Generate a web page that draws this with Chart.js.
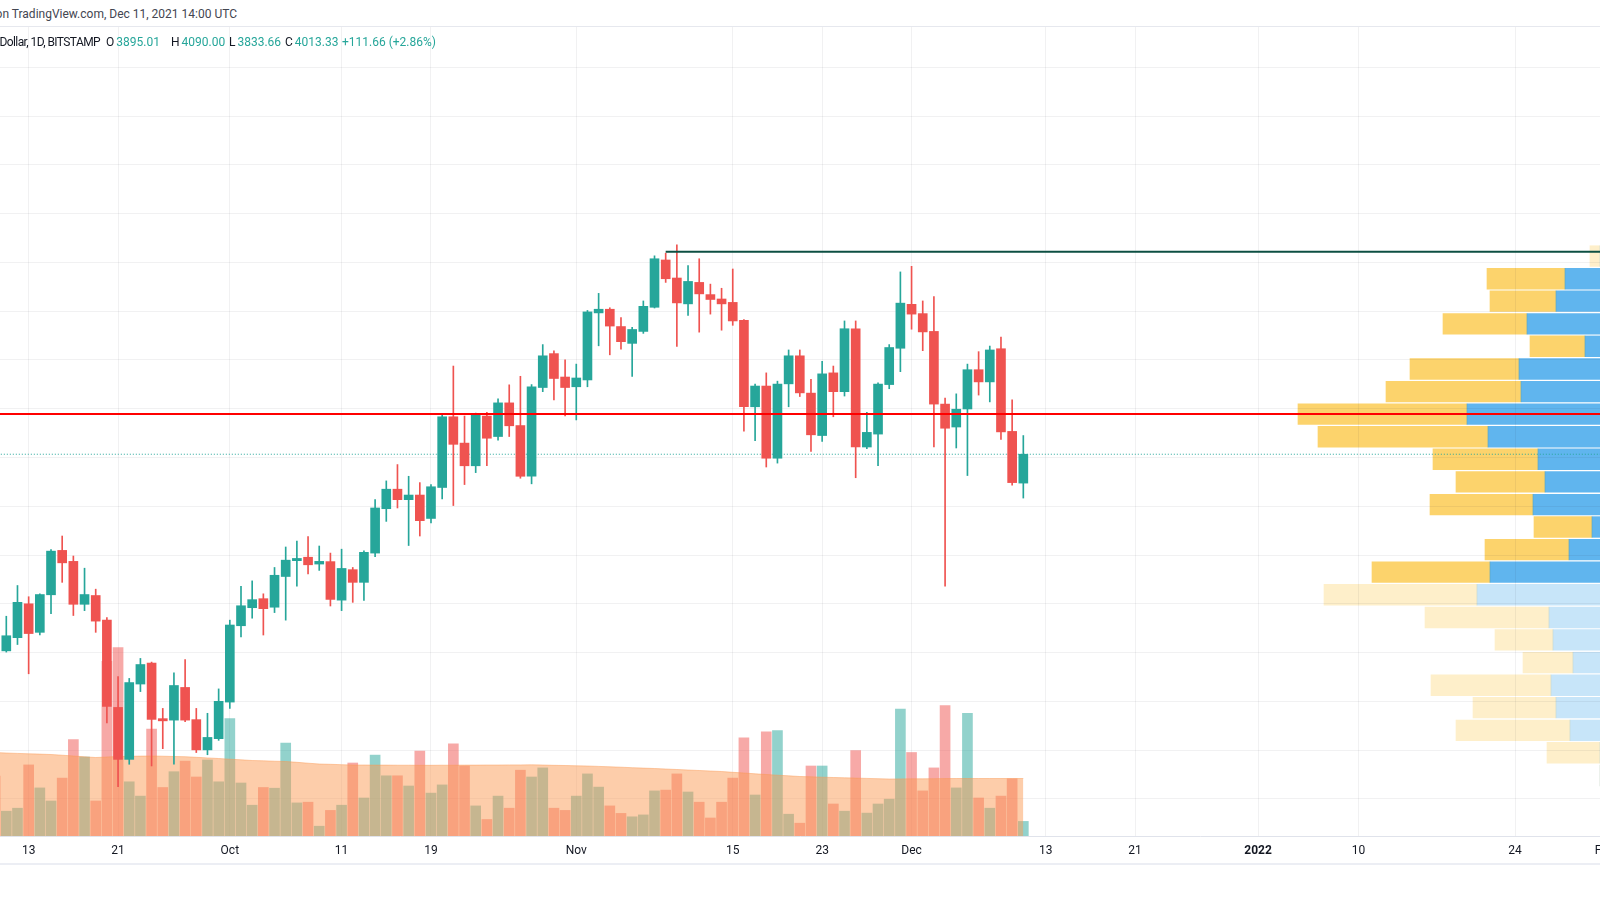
<!DOCTYPE html>
<html>
<head>
<meta charset="utf-8">
<title>ETHUSD 1D BITSTAMP</title>
<script src="https://cdn.jsdelivr.net/npm/chart.js@4.4.1/dist/chart.umd.min.js"></script>
<style>
  html, body { margin: 0; padding: 0; background: #fff; }
  body { width: 1600px; height: 900px; overflow: hidden; position: relative; font-family: Roboto, "Liberation Sans", sans-serif; }
  canvas { position: absolute; left: 0; top: 0; }
  #profile { z-index: 1; }
  #main { z-index: 2; }
  .topband { position: absolute; left: 0; top: 0; width: 1600px; height: 26px; background: #fff; border-bottom: 1px solid #e6e8ee; z-index: 3; }
  .axisband { position: absolute; left: 0; top: 863px; width: 1600px; height: 2px; background: #eceef4; z-index: 3; }
  .txt { position: absolute; z-index: 4; white-space: nowrap; font-size: 12px; line-height: 14px; }
  .pub { right: 1363px; top: 7px; color: #434651; }
  .sym { right: 1500px; top: 35px; color: #131722; letter-spacing: -0.6px; }
  .val { top: 35px; color: #131722; }
  .val b { font-weight: normal; color: #26a69a; margin-left: 2px; }
  .chg b { margin-left: 0; }
</style>
</head>
<body>
<div class="topband"></div>
<div class="txt pub">ETHUSD published on TradingView.com, Dec 11, 2021 14:00 UTC</div>
<canvas id="profile" width="1600" height="900"></canvas>
<canvas id="main" width="1600" height="900"></canvas>
<div class="txt sym">Ethereum / U.S. Dollar, 1D, BITSTAMP</div>
<div class="txt val" style="left:106px">O<b>3895.01</b></div>
<div class="txt val" style="left:171px">H<b>4090.00</b></div>
<div class="txt val" style="left:229px">L<b>3833.66</b></div>
<div class="txt val" style="left:285px">C<b>4013.33</b></div>
<div class="txt val chg" style="left:342px"><b>+111.66 (+2.86%)</b></div>
<div class="axisband"></div>
<script>
// daily candles, Sep 10 2021 (index 0) .. Dec 11 2021
const open = [3426, 3207, 3261, 3400, 3283, 3437, 3619, 3574, 3398, 3434, 3333, 2975, 2762, 3071, 3157, 2929, 2923, 3057, 2925, 2801,
  2847, 2997, 3310, 3384, 3421, 3386, 3512, 3577, 3591, 3563, 3573, 3415, 3540, 3488, 3608, 3790, 3870, 3827, 3846, 3750,
  3877, 4167, 4059, 3966, 4170, 4086, 4224, 4131, 3923, 4287, 4426, 4330, 4290, 4318, 4593, 4608, 4537, 4468, 4517, 4616,
  4810, 4736, 4630, 4718, 4668, 4650, 4636, 4562, 4208, 4293, 3997, 4302, 4417, 4264, 4090, 4347, 4270, 4528, 4043, 4096,
  4299, 4448, 4628, 4590, 4517, 4219, 4125, 4199, 4360, 4310, 4446, 4107, 3895.01];
const high = [3536, 3349, 3475, 3429, 3441, 3622, 3678, 3596, 3546, 3460, 3344, 3102, 3094, 3176, 3161, 2971, 3117, 3171, 2971, 2951,
  3051, 3333, 3472, 3494, 3441, 3549, 3633, 3657, 3676, 3637, 3608, 3624, 3549, 3617, 3827, 3904, 3971, 3923, 3897, 3889,
  4174, 4375, 4170, 4182, 4185, 4241, 4298, 4333, 4299, 4463, 4437, 4401, 4383, 4603, 4673, 4614, 4574, 4534, 4642, 4827,
  4838, 4872, 4787, 4815, 4711, 4694, 4773, 4566, 4301, 4347, 4313, 4441, 4441, 4321, 4394, 4375, 4560, 4560, 4185, 4306,
  4463, 4761, 4784, 4642, 4660, 4244, 4261, 4383, 4434, 4457, 4494, 4236, 4090.00];
const low = [3196, 3202, 3233, 3113, 3272, 3360, 3488, 3352, 3372, 3283, 2912, 2650, 2742, 3040, 2735, 2806, 2742, 2917, 2790, 2781,
  2840, 2971, 3264, 3341, 3272, 3364, 3333, 3472, 3523, 3537, 3391, 3372, 3406, 3414, 3593, 3738, 3793, 3639, 3678, 3732,
  3830, 3803, 3889, 3938, 3966, 4071, 4086, 3915, 3892, 4270, 4236, 4170, 4154, 4290, 4458, 4421, 4444, 4332, 4509, 4613,
  4718, 4455, 4583, 4514, 4588, 4522, 4542, 4108, 4069, 3961, 3977, 4208, 4250, 4025, 4066, 4167, 4252, 3917, 4036, 3966,
  4282, 4352, 4526, 4438, 4043, 3472, 4039, 3926, 4256, 4228, 4074, 3886, 3833.66];
const close = [3207, 3269, 3406, 3278, 3438, 3616, 3568, 3398, 3438, 3329, 2979, 2762, 3077, 3151, 2926, 2920, 3065, 2923, 2801, 2852,
  3000, 3313, 3392, 3417, 3380, 3517, 3579, 3586, 3560, 3574, 3418, 3545, 3488, 3611, 3793, 3870, 3827, 3846, 3741, 3880,
  4167, 4054, 3966, 4179, 4079, 4224, 4130, 3923, 4290, 4417, 4324, 4287, 4326, 4597, 4608, 4539, 4475, 4525, 4620, 4815,
  4733, 4634, 4722, 4671, 4648, 4630, 4560, 4208, 4293, 3997, 4301, 4417, 4265, 4093, 4343, 4270, 4528, 4043, 4103, 4301,
  4451, 4633, 4588, 4515, 4219, 4120, 4198, 4360, 4310, 4441, 4105, 3897, 4013.33];
// volume (thousand ETH) and its moving average
const volume = [60, 24.8, 27.8, 71.1, 48.1, 35.0, 57.9, 96.3, 79.0, 35.0, 174.6, 188.5, 54.2, 39.9, 106.8, 48.5, 64.3, 74.9, 59.0, 76.0,
  54.2, 117.4, 53.0, 30.8, 48.5, 47.8, 92.9, 33.1, 33.8, 9.8, 25.6, 30.8, 73.0, 38.0, 80.9, 60.2, 60.2, 50.0, 85.0, 42.9,
  51.1, 92.2, 70.0, 30.1, 16.5, 39.9, 27.8, 65.8, 59.0, 68.1, 27.8, 25.6, 39.9, 62.1, 48.9, 30.1, 22.6, 19.2, 21.1, 45.1,
  45.9, 62.1, 44.0, 33.8, 18.0, 33.8, 57.9, 98.2, 41.0, 104.2, 105.3, 21.8, 12.8, 70.0, 70.0, 32.0, 24.8, 85.4, 22.9, 32.0,
  36.8, 126.8, 83.5, 45.1, 68.1, 130.5, 48.1, 122.7, 38.0, 27.8, 39.9, 57.2, 14.6];
const volumeMA = [83.5, 83, 82.6, 82.2, 81.9, 81.5, 80.8, 80, 79.2, 78.5, 79, 79.5, 79.7, 79.9, 80, 79.8, 79.5, 79.3, 78.7, 78.1,
  77.5, 76.8, 76.2, 75.5, 75.2, 74.8, 74.5, 73.7, 72.8, 72, 71.7, 71.3, 71, 71, 70.9, 70.9, 70.8, 70.8, 70.7, 70.7,
  70.8, 70.8, 70.9, 70.9, 71, 71, 71.1, 71.1, 71.2, 71, 70.7, 70.5, 70.2, 70, 69.6, 69.2, 68.8, 68.3, 67.9, 67.5,
  67, 66.5, 66, 65.5, 65, 64.5, 63.7, 63, 62.2, 61.5, 60.8, 60.2, 59.5, 59.2, 58.8, 58.5, 58.2, 57.9, 57.6, 57.3,
  57, 57.1, 57.2, 57.2, 57.3, 57.4, 57.5, 57.5, 57.5, 57.5, 57.5, 57.5, 57.5];

// time axis labels (index = days since Sep 10)
const tickDays = [3, 11, 21, 31, 39, 52, 66, 74, 82, 94, 102, 113, 122, 136, 144];
const tickLabels = ['13', '21', 'Oct', '11', '19', 'Nov', '15', '23', 'Dec', '13', '21', '2022', '10', '24', 'Feb'];

// drawn levels
const supportLevel = 4178;
const highLevel = 4844;
const highLevelFrom = 60;   // Nov 9
const lastPrice = 4013.33;

// visible range volume profile (row price, up volume, down volume)
const profilePrice = [2696, 2789, 2881, 2974, 3066, 3159, 3252, 3344, 3437, 3530, 3622, 3715, 3807, 3900, 3993, 4085,
  4178, 4270, 4363, 4456, 4548, 4641, 4733, 4826];
const profileUp = [0, 0, 30, 44, 49, 27, 47, 51, 123, 110, 31, 8, 67, 55, 62, 112, 133, 79, 81, 15, 73, 44, 35, 0];
const profileDown = [0, 53, 114, 83, 120, 50, 58, 124, 153, 118, 84, 58, 103, 89, 105, 170, 169, 135, 109, 55, 84, 66, 78, 10];
const valueAreaFrom = 9, valueAreaTo = 22;

// view window
const xMin = 0.436, xMax = 143.6;
const priceMin = 2447.8, priceMax = 5765.4;
const volMax = 809;

const upColor = '#26a69a', downColor = '#ef5350';
const gridColor = 'rgba(42,46,57,0.065)';
const font = 'Roboto, "Liberation Sans", sans-serif';

const isUp = i => close[i] >= open[i];
const candleColors = open.map((_, i) => isUp(i) ? upColor : downColor);
const volColors = open.map((_, i) => isUp(i) ? 'rgba(38,166,154,0.5)' : 'rgba(239,83,80,0.5)');

const gridPrices = [];
for (let p = 2600; p <= 5600; p += 200) gridPrices.push(p);

new Chart(document.getElementById('main'), {
  type: 'bar',
  data: {
    datasets: [
      {
        label: 'Volume', yAxisID: 'y2', order: 6, grouped: false,
        data: volume.map((v, i) => ({ x: i, y: v })),
        backgroundColor: volColors, barThickness: 10, borderWidth: 0
      },
      {
        label: 'Volume MA', type: 'line', yAxisID: 'y2', order: 5,
        data: volumeMA.map((v, i) => ({ x: i, y: v })),
        fill: 'start', backgroundColor: 'rgba(251,155,85,0.5)',
        borderColor: 'rgba(251,150,80,0.45)', borderWidth: 1, pointRadius: 0
      },
      {
        label: 'Last price', type: 'line', order: 4,
        data: [{ x: xMin - 1, y: lastPrice }, { x: xMax + 1, y: lastPrice }],
        borderColor: 'rgba(38,166,154,1)', borderWidth: 1, borderDash: [1, 2], pointRadius: 0
      },
      {
        label: 'Wicks', order: 3, grouped: false,
        data: open.map((_, i) => ({ x: i, y: [low[i], high[i]] })),
        backgroundColor: candleColors, barThickness: 1, borderWidth: 0
      },
      {
        label: 'Bodies', order: 2, grouped: false,
        data: open.map((_, i) => ({ x: i, y: [open[i], close[i]] })),
        backgroundColor: candleColors, barThickness: 9, minBarLength: 1, borderWidth: 0
      },
      {
        label: 'Support', type: 'line', order: 1,
        data: [{ x: xMin - 1, y: supportLevel }, { x: xMax + 1, y: supportLevel }],
        borderColor: '#ff0000', borderWidth: 2, pointRadius: 0
      },
      {
        label: 'High', type: 'line', order: 1,
        data: [{ x: highLevelFrom, y: highLevel }, { x: xMax + 1, y: highLevel }],
        borderColor: '#0d4f42', borderWidth: 2, pointRadius: 0
      }
    ]
  },
  options: {
    responsive: false,
    animation: false,
    layout: { padding: { top: 27, bottom: 36, left: 0, right: 0 } },
    plugins: { legend: { display: false }, tooltip: { enabled: false } },
    scales: {
      x: {
        type: 'linear', min: xMin, max: xMax, offset: false,
        grid: { color: gridColor, drawTicks: false, offset: false },
        border: { display: true, color: '#e0e3eb' },
        ticks: {
          autoSkip: false, maxRotation: 0, padding: 8, color: '#131722',
          font: ctx => ({ family: font, size: 12, weight: tickLabels[ctx.index] === '2022' ? 'bold' : 'normal' }),
          callback: (v, i) => tickLabels[i]
        },
        afterBuildTicks: s => { s.ticks = tickDays.map(v => ({ value: v })); },
        afterFit: s => { s.height = 28; s.paddingLeft = 0; s.paddingRight = 0; }
      },
      y: {
        type: 'linear', position: 'right', min: priceMin, max: priceMax,
        grid: { color: gridColor, drawTicks: false },
        border: { display: false },
        ticks: { display: false },
        afterBuildTicks: s => { s.ticks = gridPrices.map(v => ({ value: v })); },
        afterFit: s => { s.width = 0; }
      },
      y2: { type: 'linear', display: false, min: 0, max: volMax }
    }
  }
});

const rowColor = (strong, faint) => profilePrice.map((_, i) => (i >= valueAreaFrom && i <= valueAreaTo) ? strong : faint);

new Chart(document.getElementById('profile'), {
  type: 'bar',
  data: {
    datasets: [
      {
        label: 'Up', stack: 'vp',
        data: profilePrice.map((p, i) => ({ x: profileUp[i], y: p })),
        backgroundColor: rowColor('rgba(21,146,230,0.68)', 'rgba(21,146,230,0.24)'),
        barThickness: 20.7, borderWidth: 0
      },
      {
        label: 'Down', stack: 'vp',
        data: profilePrice.map((p, i) => ({ x: profileDown[i], y: p })),
        backgroundColor: rowColor('rgba(251,192,45,0.7)', 'rgba(251,192,45,0.25)'),
        barThickness: 20.7, borderWidth: 0
      }
    ]
  },
  options: {
    indexAxis: 'y',
    responsive: false,
    animation: false,
    layout: { padding: { top: 27, bottom: 64, left: 0, right: 0 } },
    plugins: { legend: { display: false }, tooltip: { enabled: false } },
    scales: {
      x: { type: 'linear', reverse: true, stacked: true, min: 0, max: 1600, display: false },
      y: { type: 'linear', min: priceMin, max: priceMax, offset: false, display: false }
    }
  }
});
</script>
</body>
</html>
